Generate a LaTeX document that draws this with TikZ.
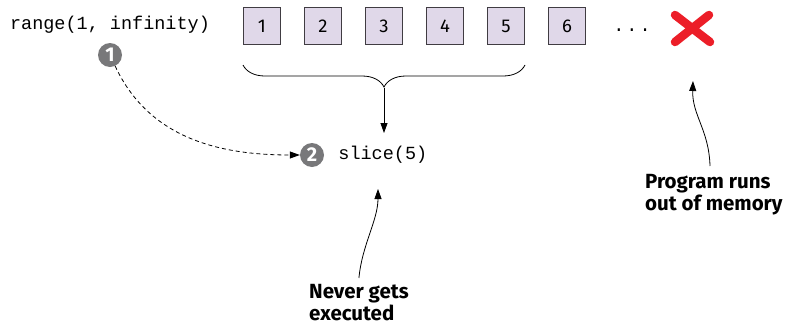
\documentclass[tikz,border=0pt]{standalone}
\usepackage{fontspec}
\newfontfamily\codefont{Liberation Mono}
\newfontfamily\notefont{Fira Sans}
\usetikzlibrary{arrows.meta, decorations.pathreplacing, positioning}
\definecolor{cellfill}{RGB}{224,216,233}
\definecolor{cellline}{RGB}{64,60,66}
\definecolor{badgegray}{RGB}{120,120,122}
\definecolor{crossred}{RGB}{236,30,40}

\begin{document}
\begin{tikzpicture}[x = 1pt, y = 1pt,
    cell/.style = {draw = cellline, fill = cellfill, line width = 1.1pt, minimum size = 37pt, inner sep = 0pt,
      font = \notefont\fontsize{18.5}{18.5}\selectfont},
    code/.style = {inner sep = 0pt, font = \codefont\fontsize{18.5}{20}\selectfont},
    badge/.style = {circle, fill = badgegray, minimum size = 24pt, inner sep = 0pt, text = white,
      font = \notefont\bfseries\fontsize{20}{20}\selectfont},
    note/.style = {align = left, inner sep = 0pt, font = \notefont\bfseries\fontsize{20.5}{22}\selectfont},
    pointer/.style = {-{Triangle[length = 10pt, width = 7pt]}, line width = 0.8pt},
    stroke/.style = {draw = crossred, line width = 8.5pt, line cap = round}]
  \useasboundingbox (0, 0) rectangle (785, -327);
  \node [code] (range) at (110, -25) {range(1, infinity)};
  \node [badge] (one) at (110, -55) {1};
  \foreach \i in {1,...,6}
    \node [cell] (cell\i) at ({262 + 61*(\i - 1)}, -26) {\i};
  \node [code, anchor = base] (dots) at (632, -31) {.\hspace{2pt}.\hspace{2pt}.};
  \coordinate (cross) at (692, -28);
  \draw [stroke] ([shift = {(-17, 13)}]cross) -- ([shift = {(18, -14)}]cross);
  \draw [stroke] ([shift = {(17, 13)}]cross) -- ([shift = {(-17, -14)}]cross);
  \draw [decorate, decoration = {brace, amplitude = 22pt}, line width = 0.8pt] (525, -65) -- (243, -65);
  \coordinate (bracetip) at (384, -88);
  \coordinate (sliceabove) at (384, -133);
  \draw [pointer] (bracetip) -- (sliceabove);
  \node [badge] (two) at (312, -155) {2};
  \node [code, right = 14pt of two] (slice) {slice(5)};
  \draw [pointer, dashed, dash pattern = on 4pt off 3pt] (one) to [out = -65, in = 180] (two);
  \node [note, anchor = north west] (never) at (309, -284) {Never gets\\executed};
  \coordinate (sliceunder) at (378, -189);
  \draw [pointer] ([yshift = 6pt]never.north) .. controls (362, -245) and (378, -220) .. (sliceunder);
  \node [note, anchor = north west] (memory) at (645, -174) {Program runs\\out of memory};
  \coordinate (memfoot) at (710, -166);
  \coordinate (crossunder) at (693, -81);
  \draw [pointer] (memfoot) .. controls (709, -130) and (692, -115) .. (crossunder);
\end{tikzpicture}
\end{document}
